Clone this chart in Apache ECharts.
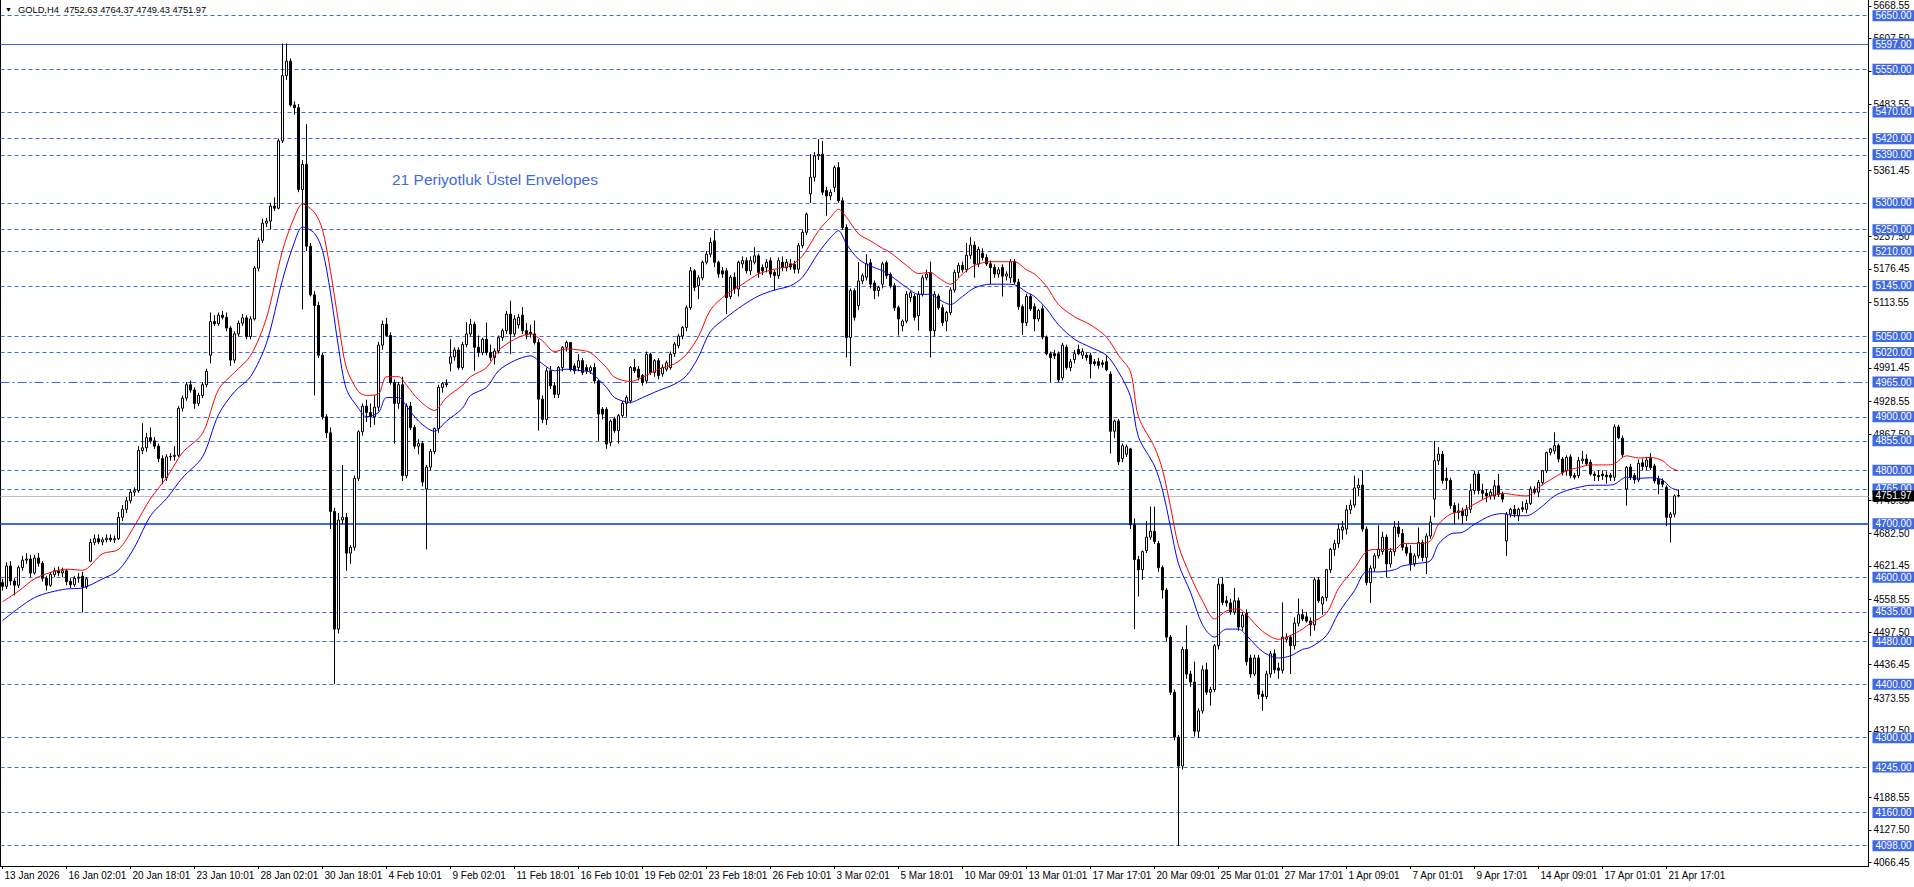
<!DOCTYPE html>
<html><head><meta charset="utf-8">
<script src="https://cdn.jsdelivr.net/npm/echarts@6/dist/echarts.min.js"></script>
<style>html,body{margin:0;padding:0;background:#fff;overflow:hidden}#c{width:1914px;height:887px}</style>
</head><body><div id="c"></div>
<script>
// ---------------- data ----------------
const symbolName = 'GOLD,H4';
const indicatorName = '21 Periyotluk Üstel Envelopes';
const barsPerLabel = 16;
const emptyBarsRight = 47;
const dateLabels = ['13 Jan 2026','16 Jan 02:01','20 Jan 18:01','23 Jan 10:01','28 Jan 02:01','30 Jan 18:01','4 Feb 10:01','9 Feb 02:01','11 Feb 18:01','16 Feb 10:01','19 Feb 02:01','23 Feb 18:01','26 Feb 10:01','3 Mar 02:01','5 Mar 18:01','10 Mar 09:01','13 Mar 01:01','17 Mar 17:01','20 Mar 09:01','25 Mar 01:01','27 Mar 17:01','1 Apr 09:01','7 Apr 01:01','9 Apr 17:01','14 Apr 09:01','17 Apr 01:01','21 Apr 17:01'];
const priceTicks = [4066.45,4127.50,4188.55,4312.50,4373.55,4436.45,4497.50,4558.55,4621.45,4682.50,4743.55,4867.50,4928.55,4991.45,5113.55,5176.45,5237.50,5361.45,5483.55,5546.45,5607.50,5668.55];
const dashedLevels = [5650,5550,5470,5420,5390,5300,5250,5210,5145,5050,5020,4900,4855,4800,4765,4600,4535,4480,4400,4300,4245,4160,4098];
const solidLevels = [5597];
const boldLevels = [4700];
const dashDotLevels = [4965];
// [open, high, low, close]
const ohlc = [
[4590,4597,4575,4583],[4583,4628,4578,4621],[4621,4630,4585,4593],[4593,4598,4566,4585],[4585,4622,4580,4618],
[4618,4640,4612,4632],[4632,4645,4625,4634],[4634,4642,4600,4608],[4608,4642,4605,4636],[4636,4645,4620,4626],
[4626,4630,4592,4598],[4598,4602,4575,4585],[4585,4610,4582,4605],[4605,4618,4600,4612],[4612,4620,4602,4608],
[4608,4618,4600,4612],[4612,4615,4585,4592],[4592,4598,4580,4586],[4586,4602,4582,4598],[4598,4608,4590,4600],
[4602,4610,4534,4582],[4582,4600,4578,4597],[4630,4672,4628,4665],[4665,4680,4660,4672],[4672,4680,4662,4666],
[4666,4675,4660,4670],[4670,4680,4665,4673],[4673,4680,4666,4670],[4670,4678,4664,4672],[4672,4722,4670,4712],
[4712,4735,4705,4727],[4727,4750,4720,4743],[4743,4765,4738,4759],[4759,4768,4752,4762],[4762,4845,4758,4837],
[4837,4888,4830,4842],[4842,4870,4835,4861],[4861,4880,4850,4855],[4855,4862,4840,4845],[4845,4850,4815,4822],
[4822,4828,4774,4786],[4786,4830,4780,4825],[4825,4832,4818,4826],[4826,4845,4818,4828],[4828,4920,4825,4916],
[4916,4940,4910,4935],[4935,4965,4930,4960],[4960,4968,4945,4950],[4950,4955,4915,4925],[4925,4945,4920,4940],
[4940,4965,4935,4960],[4960,4990,4955,4985],[5015,5095,5000,5078],[5078,5090,5070,5074],[5074,5095,5070,5090],
[5090,5098,5082,5086],[5086,5095,5060,5066],[5066,5070,4995,5006],[5006,5060,5000,5055],[5055,5080,5050,5075],
[5075,5092,5070,5085],[5085,5090,5045,5050],[5050,5088,5045,5083],[5083,5182,5080,5178],[5178,5235,5172,5230],
[5230,5270,5225,5262],[5262,5272,5255,5266],[5266,5300,5250,5294],[5294,5310,5285,5290],[5290,5420,5288,5416],
[5416,5598,5412,5538],[5538,5598,5530,5565],[5565,5570,5480,5483],[5483,5490,5465,5478],[5478,5485,5320,5325],
[5325,5380,5101,5372],[5372,5447,5210,5219],[5219,5225,5125,5128],[5128,5135,4940,5108],[5108,5115,5010,5015],
[5015,5020,4895,4900],[4900,4905,4860,4870],[4870,4880,4690,4723],[4723,4730,4400,4503],[4503,4720,4495,4707],
[4707,4810,4700,4712],[4712,4720,4612,4645],[4645,4660,4625,4656],[4656,4790,4650,4785],[4785,4875,4780,4872],
[4872,4925,4865,4920],[4920,4932,4890,4908],[4908,4925,4880,4900],[4900,4940,4885,4918],[4918,5040,4910,5034],
[5034,5080,5025,5073],[5073,5085,5050,5052],[5052,5058,4960,4964],[4964,4970,4850,4925],[4925,4965,4915,4960],
[4960,4975,4780,4790],[4790,4925,4785,4920],[4920,4928,4875,4880],[4880,4885,4840,4845],[4845,4858,4830,4850],
[4850,4855,4770,4778],[4765,4810,4652,4806],[4806,4840,4800,4835],[4835,4880,4830,4878],[4878,4960,4870,4955],
[4955,4965,4945,4962],[4962,4970,4955,4960],[5000,5045,4985,5012],[5012,5030,5005,5025],[5025,5030,4988,4992],
[4992,5040,4988,5035],[5035,5077,5030,5055],
[5055,5083,5050,5073],[5073,5078,4986,5030],[5030,5052,5012,5020],[5020,5048,5015,5045],[5045,5076,5015,5020],
[5020,5035,5005,5011],[5011,5028,4998,5023],[5023,5052,5018,5048],[5048,5065,5042,5061],[5061,5098,5055,5092],
[5092,5117,5017,5055],[5055,5090,5050,5083],[5072,5092,5065,5086],[5090,5105,5055,5061],[5061,5075,5045,5053],
[5058,5072,5048,5055],[5055,5080,5035,5039],[5039,5045,4874,4933],[4933,4940,4888,4895],[4895,4992,4885,4986],
[4986,4995,4952,4958],[4958,4965,4935,4942],[4942,4995,4935,4992],[4992,5032,4985,5030],[5030,5042,5022,5039],
[5039,5040,4985,4989],[4995,5000,4980,4986],[4992,5017,4985,5005],[5005,5010,4978,4983],[4992,4998,4980,4986],
[4986,4996,4980,4992],[4992,5000,4962,4967],[4967,4970,4855,4905],[4914,4918,4895,4905],[4914,4918,4840,4849],
[4852,4895,4845,4892],[4896,4900,4870,4874],[4874,4905,4850,4902],[4902,4930,4898,4925],[4925,4940,4900,4936],
[4930,4995,4925,4992],[4992,5008,4982,4986],[4989,4995,4968,4974],[4977,4980,4958,4964],[4967,5022,4962,5017],
[5017,5020,4978,4983],[4983,5008,4975,5005],[5005,5010,4970,4977],[4980,4998,4975,4992],[4989,5005,4985,5001],
[4992,5022,4988,5017],[5018,5040,5012,5036],[5033,5055,5028,5051],[5051,5070,5045,5067],[5067,5108,5060,5104],
[5104,5180,5100,5173],[5173,5176,5135,5142],[5145,5165,5120,5160],[5160,5192,5155,5189],[5189,5210,5185,5204],
[5204,5235,5198,5226],[5229,5248,5180,5189],[5189,5192,5160,5167],[5173,5180,5160,5167],[5173,5178,5092,5123],
[5125,5165,5120,5161],[5161,5170,5130,5139],[5139,5192,5125,5189],[5186,5200,5178,5192],[5192,5198,5168,5173],
[5173,5200,5165,5192],[5189,5217,5185,5201],[5201,5205,5160,5170],[5179,5185,5165,5173],[5179,5195,5170,5189],
[5192,5198,5160,5167],[5170,5175,5136,5164],[5164,5198,5158,5192],[5189,5200,5172,5179],[5179,5195,5172,5189],
[5186,5195,5175,5180],[5185,5192,5168,5176],[5176,5225,5168,5220],[5220,5250,5215,5245],[5245,5282,5240,5279],
[5317,5391,5300,5348],[5348,5395,5340,5388],[5388,5419,5380,5391],[5391,5416,5315,5320],[5323,5330,5276,5313],
[5313,5325,5305,5320],[5329,5370,5320,5366],[5366,5376,5300,5304],[5304,5310,5250,5254],[5254,5260,5011,5048],
[5048,5140,4995,5136],[5136,5140,5080,5086],[5108,5189,5100,5154],[5154,5168,5148,5164],[5161,5204,5155,5186],
[5188,5195,5140,5148],[5150,5155,5120,5136],[5136,5145,5125,5142],[5148,5190,5140,5186],[5188,5192,5158,5164],
[5166,5170,5140,5145],[5145,5150,5098,5104],[5104,5108,5052,5083],[5070,5082,5060,5079],[5079,5135,5075,5129],
[5123,5135,5115,5132],[5125,5130,5080,5086],[5089,5135,5061,5129],[5129,5165,5125,5160],[5160,5175,5155,5167],
[5170,5190,5011,5061],[5061,5135,5050,5129],[5126,5130,5100,5104],[5104,5110,5070,5076],
[5079,5098,5060,5095],[5095,5142,5090,5137],[5137,5175,5132,5170],[5170,5188,5160,5183],[5183,5190,5170,5175],
[5175,5225,5170,5202],[5202,5236,5195,5221],[5221,5228,5160,5186],[5186,5218,5180,5213],[5206,5215,5192,5198],
[5198,5204,5182,5186],[5186,5192,5148,5179],[5179,5185,5160,5167],[5167,5180,5160,5175],[5179,5185,5125,5163],
[5163,5172,5155,5167],[5160,5195,5150,5190],[5190,5195,5148,5152],[5152,5158,5100,5106],[5106,5110,5053,5076],
[5076,5130,5070,5125],[5125,5130,5098,5102],[5106,5112,5060,5083],[5083,5102,5078,5099],[5102,5108,5045,5049],
[5049,5052,5015,5018],[5018,5022,4965,5011],[5018,5025,5008,5014],[5018,5022,4965,4969],[4973,5038,4968,5034],
[5030,5035,4988,4992],[4992,5008,4985,5003],[5007,5025,5000,5018],[5026,5035,5015,5018],[5015,5028,5008,5022],
[5015,5020,5005,5011],[5015,5020,4972,4999],[5003,5008,4995,4999],[5003,5010,4990,4996],[5001,5006,4992,4998],
[5003,5015,4985,4988],[4980,4985,4831,4873],[4873,4895,4860,4892],[4892,4896,4810,4816],[4822,4850,4815,4846],
[4830,4848,4825,4844],[4840,4842,4690,4698],[4698,4710,4503,4633],[4633,4640,4564,4614],[4614,4650,4595,4648],
[4650,4705,4645,4675],[4675,4732,4670,4686],[4686,4732,4662,4667],[4663,4668,4610,4618],[4618,4622,4560,4576],
[4576,4580,4480,4488],[4488,4492,4380,4385],[4385,4390,4295,4301],[4301,4305,4098,4247],[4247,4470,4240,4465],
[4465,4510,4410,4419],[4419,4425,4395,4404],[4404,4442,4302,4312],[4312,4355,4300,4350],[4350,4435,4345,4427],
[4427,4440,4380,4385],[4385,4395,4360,4390],[4390,4475,4385,4472],[4472,4598,4465,4587],[4587,4600,4548,4553],
[4556,4565,4545,4552],[4552,4560,4530,4535],[4535,4580,4530,4556],[4556,4562,4500,4507],[4507,4535,4500,4529],
[4533,4540,4435,4442],[4449,4455,4412,4419],[4419,4455,4415,4449],[4449,4455,4372,4381],[4381,4388,4350,4377],
[4377,4425,4372,4419],[4419,4462,4412,4457],[4457,4465,4420,4427],[4430,4440,4410,4426],[4426,4553,4420,4488],
[4484,4495,4478,4488],[4488,4492,4419,4472],[4472,4525,4465,4514],[4514,4560,4508,4530],[4530,4540,4518,4522],
[4526,4535,4515,4518],[4518,4525,4490,4511],[4511,4600,4500,4595],[4595,4600,4552,4556],[4550,4565,4530,4562],
[4562,4615,4555,4614],[4614,4655,4608,4652],[4652,4670,4640,4663],[4663,4700,4655,4690],[4688,4705,4670,4694],
[4690,4735,4680,4726],[4726,4745,4718,4735],[4735,4790,4730,4767],[4767,4785,4752,4772],[4772,4800,4685,4690],
[4690,4695,4585,4590],[4590,4622,4552,4617],[4617,4645,4610,4640],[4640,4697,4635,4652],[4648,4685,4642,4675],
[4675,4680,4600,4625],[4625,4655,4618,4648],[4648,4705,4640,4694],[4694,4705,4675,4682],[4682,4690,4650,4656],
[4656,4662,4640,4645],[4645,4660,4612,4625],[4625,4645,4620,4640],
[4640,4693,4635,4665],[4665,4670,4630,4637],[4637,4682,4606,4677],[4677,4715,4672,4703],[4746,4855,4712,4818],
[4818,4843,4810,4830],[4830,4836,4775,4781],[4785,4805,4765,4781],[4781,4786,4728,4734],[4734,4740,4699,4721],
[4721,4738,4708,4724],[4724,4730,4700,4715],[4715,4735,4705,4727],[4727,4775,4720,4762],[4762,4799,4755,4793],
[4793,4798,4755,4762],[4762,4775,4745,4757],[4757,4765,4740,4752],[4752,4765,4745,4759],[4752,4782,4745,4771],
[4771,4793,4750,4755],[4755,4760,4740,4746],[4668,4722,4640,4718],[4718,4730,4712,4727],[4727,4735,4712,4718],
[4715,4730,4705,4727],[4730,4742,4722,4727],[4727,4745,4720,4738],[4738,4770,4735,4765],[4765,4770,4755,4759],
[4759,4782,4750,4777],[4777,4800,4772,4799],[4799,4835,4795,4833],[4833,4842,4828,4840],[4836,4871,4830,4846],
[4846,4850,4815,4821],[4821,4825,4790,4796],[4799,4828,4790,4824],[4825,4830,4785,4790],[4790,4795,4783,4787],
[4790,4825,4785,4818],[4818,4836,4812,4821],[4821,4830,4808,4812],[4815,4820,4790,4793],[4793,4798,4780,4790],
[4790,4800,4780,4788],[4793,4800,4782,4790],[4791,4798,4775,4788],[4791,4795,4780,4787],[4787,4886,4780,4881],
[4881,4885,4858,4861],[4860,4865,4825,4829],[4765,4808,4734,4805],[4806,4812,4782,4787],[4790,4795,4775,4782],
[4782,4820,4778,4813],[4814,4822,4800,4807],[4807,4825,4800,4819],[4822,4832,4800,4805],[4808,4812,4775,4780],
[4783,4790,4755,4774],[4780,4785,4768,4774],[4768,4772,4696,4712],[4712,4722,4665,4718],[4718,4755,4712,4752],
[4752.63,4764.37,4749.43,4751.97]
];
// envelope readings: [bar index, price]
const upperEnv = [[0,4554],[4,4574],[8,4597],[12,4609],[16,4615],[20,4613],[25,4644],[29,4652],[33,4696],[37,4747],[41,4786],[45,4833],[50,4869],[54,4951],[58,4983],[62,5014],[66,5085],[70,5211],[73,5274],[75,5298],[78,5282],[80,5250],[82,5172],[84,5077],[86,4991],[89,4947],[91,4940],[94,4943],[96,4975],[99,4975],[101,4959],[104,4932],[108,4912],[111,4936],[115,4959],[117,4975],[121,4992],[124,5024],[128,5045],[132,5055],[135,5042],[138,5022],[141,5027],[145,5024],[147,5020],[151,4992],[153,4974],[157,4966],[160,4974],[164,4989],[168,4999],[171,5017],[174,5050],[177,5100],[181,5129],[185,5148],[189,5167],[193,5176],[197,5183],[200,5201],[204,5248],[207,5273],[209,5288],[211,5273],[214,5242],[217,5229],[220,5215],[222,5207],[226,5183],[229,5168],[232,5170],[234,5160],[237,5148],[240,5167],[243,5183],[247,5190],[250,5190],[253,5190],[256,5175],[258,5167],[261,5144],[264,5110],[268,5087],[272,5072],[276,5049],[279,5015],[282,4984],[284,4900],[288,4843],[290,4801],[292,4732],[294,4659],[297,4602],[300,4556],[303,4522],[306,4537],[309,4541],[311,4530],[315,4499],[319,4484],[322,4491],[325,4503],[327,4514],[331,4533],[334,4579],[338,4617],[341,4648],[344,4652],[348,4652],[350,4663],[354,4663],[357,4668],[359,4699],[362,4718],[365,4724],[368,4737],[372,4752],[375,4757],[378,4754],[381,4752],[384,4768],[388,4787],[391,4799],[394,4805],[397,4810],[401,4810],[403,4812],[406,4827],[409,4823],[412,4824],[415,4818],[417,4805],[419,4799]];
const lowerEnv = [[0,4519],[4,4542],[8,4562],[12,4572],[16,4578],[20,4580],[25,4597],[29,4613],[33,4656],[37,4715],[41,4747],[45,4786],[50,4825],[54,4904],[58,4947],[62,4975],[66,5038],[70,5156],[73,5227],[75,5255],[78,5243],[80,5211],[82,5132],[84,5030],[86,4951],[89,4916],[91,4900],[94,4908],[96,4936],[99,4936],[101,4920],[104,4892],[108,4873],[111,4892],[115,4916],[117,4940],[121,4955],[124,4986],[128,5005],[132,5014],[135,4999],[138,4986],[141,4989],[145,4986],[147,4983],[151,4955],[153,4936],[157,4927],[160,4936],[164,4949],[168,4961],[171,4977],[174,5012],[177,5060],[181,5086],[185,5108],[189,5126],[193,5137],[197,5145],[200,5161],[204,5207],[207,5235],[209,5248],[211,5223],[214,5195],[217,5182],[220,5173],[222,5164],[226,5142],[229,5129],[232,5129],[234,5120],[237,5110],[240,5125],[243,5141],[247,5148],[250,5148],[253,5147],[256,5133],[258,5125],[261,5102],[264,5072],[268,5045],[272,5030],[276,5015],[279,4984],[282,4938],[284,4862],[288,4808],[290,4763],[292,4694],[294,4625],[297,4572],[300,4511],[303,4488],[306,4503],[309,4503],[311,4491],[315,4461],[319,4449],[322,4453],[325,4465],[327,4469],[331,4491],[334,4533],[338,4575],[341,4610],[344,4610],[348,4614],[350,4621],[354,4626],[357,4631],[359,4662],[362,4681],[365,4684],[368,4699],[372,4715],[375,4719],[378,4715],[381,4715],[384,4727],[388,4752],[391,4762],[394,4768],[397,4772],[401,4772],[403,4774],[406,4787],[409,4785],[412,4786],[415,4782],[417,4768],[419,4762]];

// ---------------- chart ----------------
const FONT = 'Liberation Sans, Arial, sans-serif';
const BLUE = '#4169E1';
const last = ohlc[ohlc.length - 1];
const categories = [];
for (let i = 0; i < ohlc.length + emptyBarsRight; i++) categories.push(String(i));
const candleData = ohlc.map(r => [r[0], r[3], r[2], r[1]]);
const showLabel = i => i % barsPerLabel === 0 && (i / barsPerLabel) < dateLabels.length;

const levelLabel = (bg) => ({
  show: true, position: 'end', distance: 4,
  formatter: p => Number(p.value).toFixed(2),
  color: '#fff', backgroundColor: bg, padding: [1, 3, 0, 3],
  fontFamily: FONT, fontSize: 10, lineHeight: 10
});
const markData = [];
dashedLevels.forEach(v => markData.push({ yAxis: v, lineStyle: { color: BLUE, width: 1, type: [4, 3] }, label: levelLabel(BLUE) }));
solidLevels.forEach(v => markData.push({ yAxis: v, lineStyle: { color: BLUE, width: 1, type: 'solid' }, label: levelLabel(BLUE) }));
boldLevels.forEach(v => markData.push({ yAxis: v, lineStyle: { color: BLUE, width: 2, type: 'solid' }, label: levelLabel(BLUE) }));
dashDotLevels.forEach(v => markData.push({ yAxis: v, lineStyle: { color: BLUE, width: 1, type: [9, 3, 2, 3] }, label: levelLabel(BLUE) }));
markData.push({ yAxis: last[3], lineStyle: { color: '#C0C0C0', width: 1, type: 'solid' }, label: levelLabel('#000') });

const yMin = 4060.0, yMax = 5679.4;
const chart = echarts.init(document.getElementById('c'), null, { renderer: 'svg' });
chart.setOption({
  animation: false,
  backgroundColor: '#fff',
  grid: { left: 0.5, right: 45.5, top: 0, bottom: 21, containLabel: false },
  xAxis: {
    type: 'category', data: categories, boundaryGap: true,
    axisLine: { show: true, lineStyle: { color: '#000', width: 1 } },
    axisTick: { show: true, interval: showLabel, length: 3, alignWithLabel: true, lineStyle: { color: '#000' } },
    axisLabel: { show: true, interval: showLabel, formatter: (v, i) => dateLabels[i / barsPerLabel], align: 'left',
      color: '#000', fontFamily: FONT, fontSize: 10, margin: 4, padding: [0, 0, 0, 2] },
    splitLine: { show: false }
  },
  yAxis: [{
    type: 'value', position: 'right', min: yMin, max: yMax,
    axisLine: { show: true, onZero: false, lineStyle: { color: '#000', width: 1 } },
    axisTick: { show: true, length: 3, customValues: priceTicks, lineStyle: { color: '#000' } },
    axisLabel: { show: true, customValues: priceTicks, formatter: v => Number(v).toFixed(2), color: '#000',
      fontFamily: FONT, fontSize: 10, margin: 5 },
    splitLine: { show: false }
  }, {
    type: 'value', position: 'left', min: yMin, max: yMax,
    axisLine: { show: true, onZero: false, lineStyle: { color: '#000', width: 1 } },
    axisTick: { show: false }, axisLabel: { show: false }, splitLine: { show: false }
  }],
  graphic: [
    { type: 'text', left: 5, top: 6, style: { text: '▼', fill: '#000', font: '7px ' + FONT } },
    { type: 'text', left: 18, top: 5, style: { text: symbolName + '  ' + last.map(v => v.toFixed(2)).join(' '), fill: '#000', font: '9.3px ' + FONT } },
    { type: 'text', left: 392, top: 171, style: { text: indicatorName, fill: BLUE, font: '15.5px ' + FONT } }
  ],
  series: [{
    type: 'candlestick', name: symbolName, data: candleData, barWidth: 2,
    itemStyle: { color: '#fff', color0: '#000', borderColor: '#000', borderColor0: '#000', borderWidth: 1 },
    markLine: { symbol: ['none', 'none'], silent: true, animation: false, data: markData, z: 1 },
    z: 3
  }, {
    type: 'line', name: 'upper', data: upperEnv, showSymbol: false, symbol: 'none', smooth: 0.3,
    lineStyle: { color: '#FF0000', width: 1 }, z: 4
  }, {
    type: 'line', name: 'lower', data: lowerEnv, showSymbol: false, symbol: 'none', smooth: 0.3,
    lineStyle: { color: '#0000FF', width: 1 }, z: 4
  }]
});
</script>
</body></html>
